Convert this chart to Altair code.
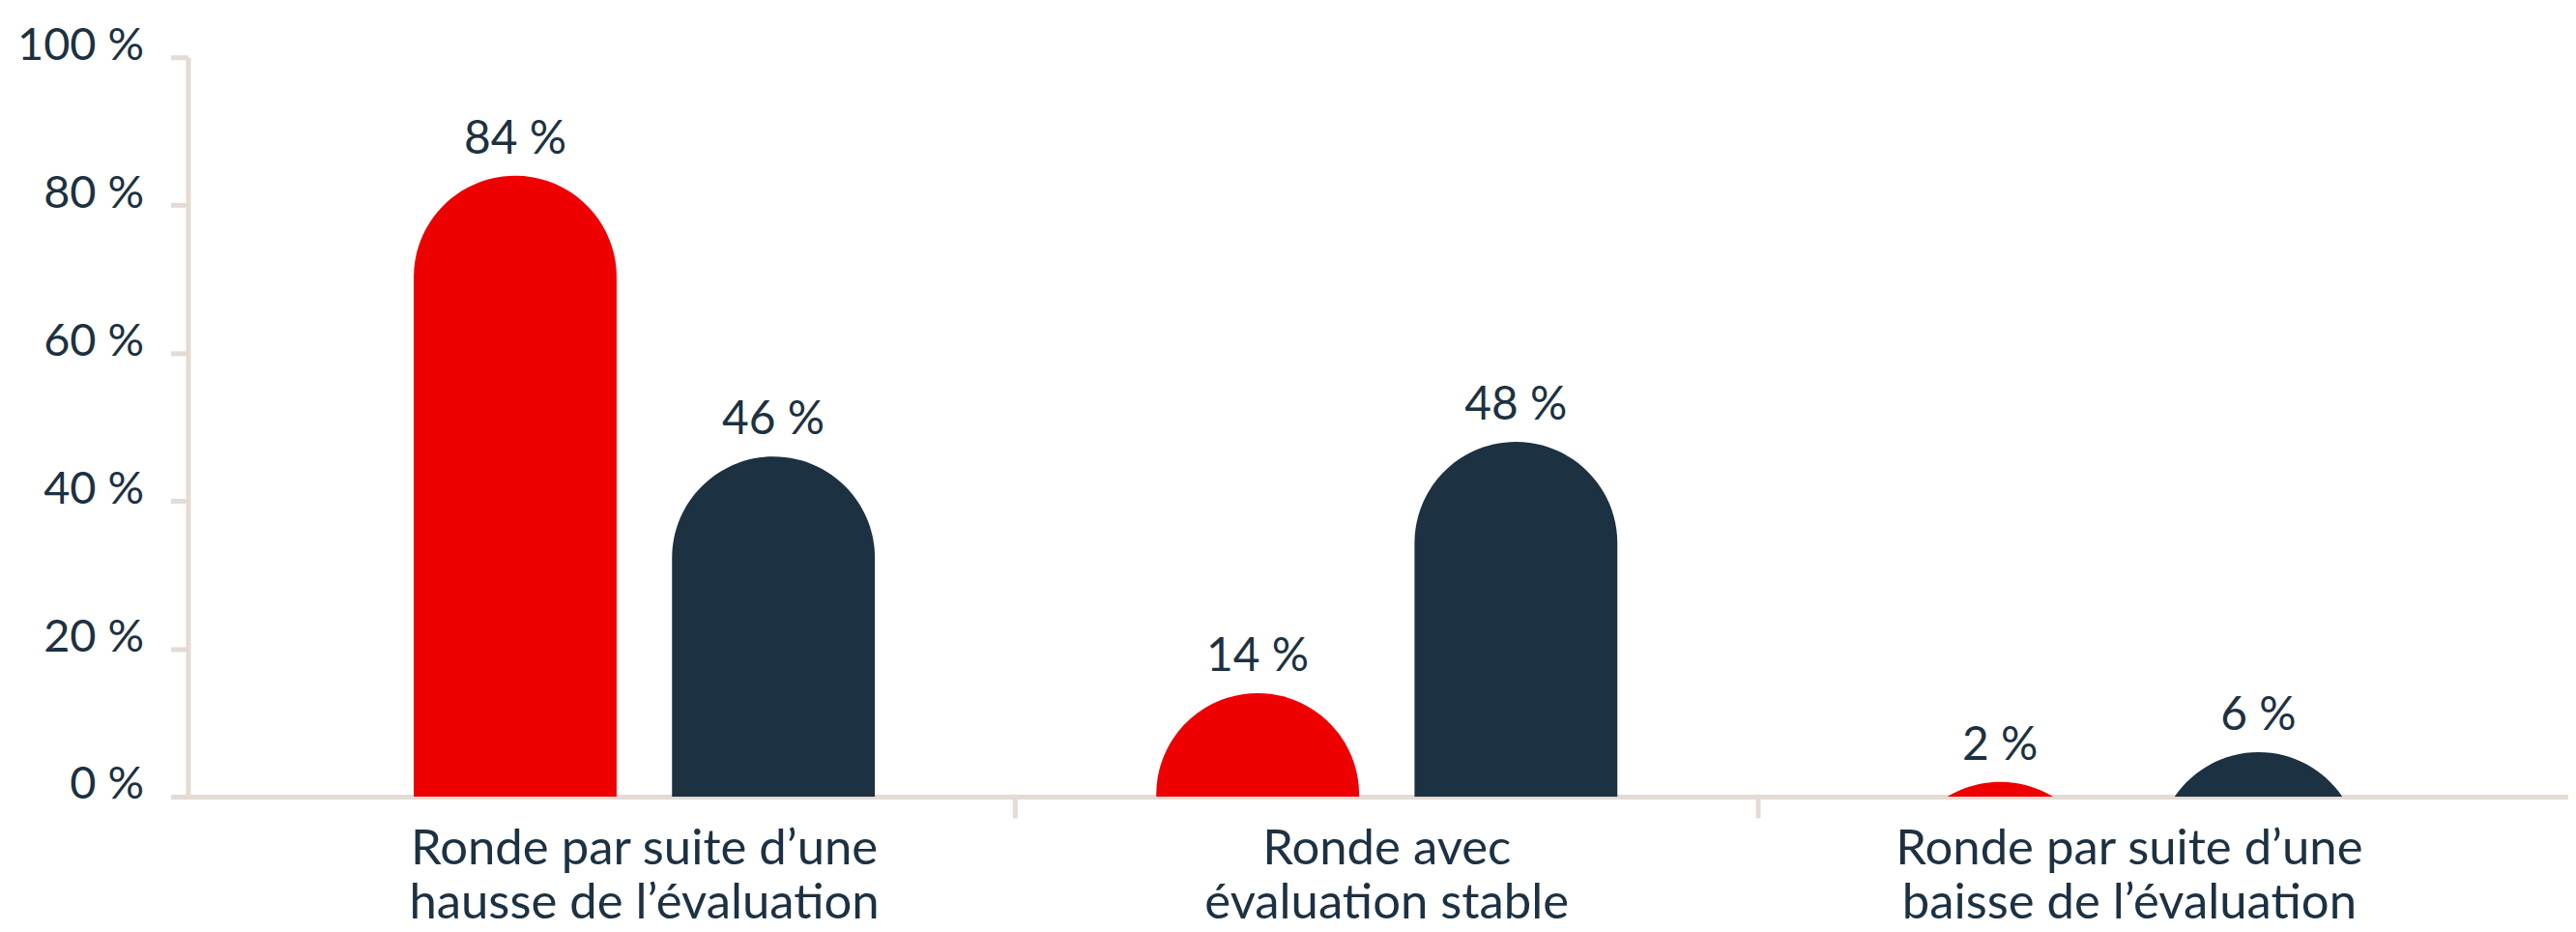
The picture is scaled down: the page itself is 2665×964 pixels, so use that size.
import json
import altair as alt
import pandas as pd

# ---- data ----
categories = [
    "Ronde par suite d’une|hausse de l’évaluation",
    "Ronde avec|évaluation stable",
    "Ronde par suite d’une|baisse de l’évaluation",
]
series = ["Série 1", "Série 2"]
values_serie1 = [84, 14, 2]
values_serie2 = [46, 48, 6]

rows = []
for i, cat in enumerate(categories):
    rows.append({"category": cat, "series": series[0], "value": values_serie1[i]})
    rows.append({"category": cat, "series": series[1], "value": values_serie2[i]})
df = pd.DataFrame(rows)

# ---- style ----
RED = "#EE0000"
NAVY = "#1C3142"
AXIS = "#E3DBD4"
FONT = "Lato"

W, H = 2470, 767
PO_X, ALIGN_X = 0.1029, 0.557
PI_OFF, PO_OFF = 0.2146, 0.5448
step = W / (3 + 2 * PO_X)
off_step = step / (2 - PI_OFF + 2 * PO_OFF)
bar_w = off_step * (1 - PI_OFF)
R_DATA = bar_w / 2 / H * 100  # bar half-width in data units

x_enc = alt.X(
    "category:N",
    sort=categories,
    scale=alt.Scale(paddingInner=0, paddingOuter=PO_X, align=ALIGN_X),
    axis=alt.Axis(
        title=None,
        labelAngle=0,
        labelExpr="split(datum.label, '|')",
        labelFont=FONT,
        labelFontSize=51,
        labelColor=NAVY,
        labelLineHeight=56,
        labelBaseline="top",
        labelPadding=8,
        labelLimit=0,
        bandPosition=1,
        tickSize=22,
        tickWidth=5,
        tickColor=AXIS,
        tickOpacity={
            "condition": {
                "test": "datum.value === " + json.dumps(categories[-1], ensure_ascii=False),
                "value": 0,
            },
            "value": 1,
        },
        domainColor=AXIS,
        domainWidth=5,
        grid=False,
    ),
)
xoff_enc = alt.XOffset(
    "series:N", sort=series, scale=alt.Scale(paddingInner=PI_OFF, paddingOuter=PO_OFF)
)
y_scale = alt.Scale(domain=[0, 100], nice=False)
y_enc = alt.Y(
    "value:Q",
    scale=y_scale,
    axis=alt.Axis(
        title=None,
        values=[0, 20, 40, 60, 80, 100],
        labelExpr="datum.value + ' %'",
        labelFont=FONT,
        labelFontSize=47,
        labelColor=NAVY,
        labelBaseline="alphabetic",
        labelOffset=2,
        labelPadding=28,
        tickSize=18,
        tickWidth=5,
        tickColor=AXIS,
        domainColor=AXIS,
        domainWidth=5,
        grid=False,
    ),
)

base = alt.Chart(df).transform_calculate(
    y0=f"min(0, datum.value - {2 * R_DATA})",
    label="datum.value + ' %'",
)

bars = base.mark_bar(
    clip=True, cornerRadiusTopLeft=400, cornerRadiusTopRight=400
).encode(
    x=x_enc,
    xOffset=xoff_enc,
    y=y_enc,
    y2="y0:Q",
    color=alt.Color("series:N", scale=alt.Scale(domain=series, range=[RED, NAVY]), legend=None),
)

labels = base.mark_text(
    baseline="alphabetic", dy=-23, font=FONT, fontSize=48, color=NAVY
).encode(
    x=x_enc,
    xOffset=xoff_enc,
    y=alt.Y("value:Q", scale=y_scale),
    text="label:N",
)

chart = (
    alt.layer(bars, labels)
    .properties(
        width=W,
        height=H,
        autosize=alt.AutoSizeParams(type="none"),
        padding={"left": 187, "top": 50, "right": 0, "bottom": 139},
    )
    .configure_view(stroke=None)
)

chart.save("out.html", embed_options={"renderer": "svg", "actions": False})
